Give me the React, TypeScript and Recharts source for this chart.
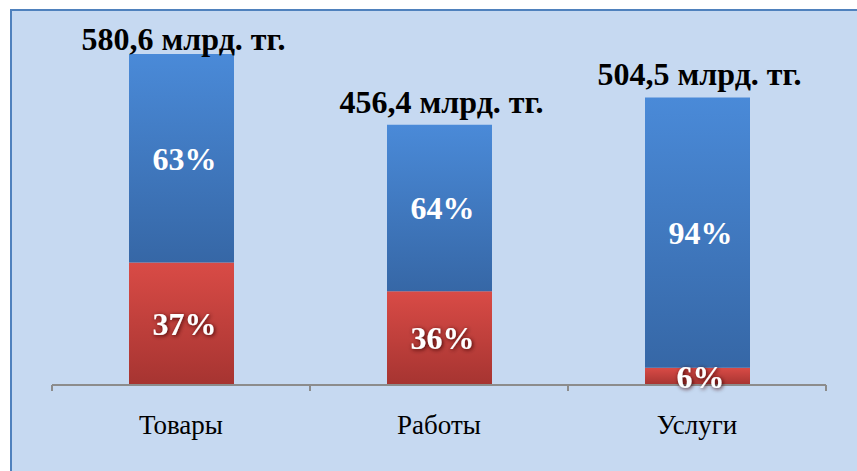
import { BarChart, Bar, XAxis, YAxis, LabelList } from "recharts";

const categories = ["Товары", "Работы", "Услуги"];
const totals = [580.6, 456.4, 504.5]; // млрд. тг.
const redShare = [37, 36, 6];
const blueShare = [63, 64, 94];

const W = 857;
const H = 471;
const M = { top: 43, right: 31, bottom: 26, left: 52 };
const X_AXIS_H = 60;
const AXIS_Y = H - M.bottom - X_AXIS_H;
const BAND = (W - M.left - M.right) / categories.length;
const SERIF = '"Liberation Serif", "Times New Roman", serif';

const data = categories.map((name, i) => ({
  name,
  red: (totals[i] * redShare[i]) / 100,
  blue: (totals[i] * blueShare[i]) / 100,
  total: totals[i],
  redPct: redShare[i],
  bluePct: blueShare[i],
}));

const fmtTotal = (v: number) => `${v.toFixed(1).replace(".", ",")} млрд. тг.`;

function CategoryTick(props: any) {
  const { x, payload } = props;
  return (
    <g>
      <line x1={x - BAND / 2} x2={x - BAND / 2} y1={AXIS_Y} y2={AXIS_Y + 6} stroke="#8c8c8c" strokeWidth={2} />
      <line x1={x + BAND / 2} x2={x + BAND / 2} y1={AXIS_Y} y2={AXIS_Y + 6} stroke="#8c8c8c" strokeWidth={2} />
      <text x={x} y={AXIS_Y + 49} textAnchor="middle" fontFamily={SERIF} fontSize={27} fill="#000">
        {payload.value}
      </text>
    </g>
  );
}

function pctLabel(shadow: boolean) {
  return (p: any) => {
    const { x, y, width, height, value } = p;
    return (
      <text
        x={x + width / 2 + 3}
        y={y + height / 2}
        dy="0.35em"
        textAnchor="middle"
        fontFamily={SERIF}
        fontWeight="bold"
        fontSize={32}
        fill="#fff"
        filter={shadow ? "url(#darkGlow)" : undefined}
      >
        {value}%
      </text>
    );
  };
}

function TotalLabel(p: any) {
  const { x, y, width, value } = p;
  const base = Math.max(y - 12, 50);
  return (
    <text x={x + width / 2 + 2} y={base} textAnchor="middle" fontFamily={SERIF} fontWeight="bold" fontSize={32} fill="#000">
      {fmtTotal(value)}
    </text>
  );
}

export default function App() {
  return (
    <div style={{ position: "fixed", left: 0, top: 0, width: W, height: H, background: "#fff", overflow: "hidden" }}>
      <div
        style={{
          position: "absolute",
          left: 10,
          top: 9,
          width: W + 10,
          height: H + 10,
          background: "#c6d9f1",
          borderTop: "2px solid #4f81bd",
          borderLeft: "2px solid #4f81bd",
        }}
      />
      <div style={{ position: "absolute", left: 0, top: 0 }}>
        <BarChart width={W} height={H} data={data} margin={M} barSize={105}>
          <defs>
            <linearGradient id="blueGrad" x1="0" y1="0" x2="0" y2="1">
              <stop offset="0%" stopColor="#4a8ad8" />
              <stop offset="100%" stopColor="#3667a6" />
            </linearGradient>
            <linearGradient id="redGrad" x1="0" y1="0" x2="0" y2="1">
              <stop offset="0%" stopColor="#d94b46" />
              <stop offset="100%" stopColor="#a63431" />
            </linearGradient>
            <filter id="darkGlow" x="-20%" y="-30%" width="140%" height="160%">
              <feDropShadow dx="1" dy="1" stdDeviation="2" floodColor="#3a0605" floodOpacity="1" />
            </filter>
          </defs>
          <XAxis
            dataKey="name"
            height={X_AXIS_H}
            tickLine={false}
            axisLine={{ stroke: "#8c8c8c", strokeWidth: 2 }}
            tick={<CategoryTick />}
            interval={0}
          />
          <YAxis hide domain={[0, 600]} />
          <Bar dataKey="red" stackId="a" fill="url(#redGrad)" isAnimationActive={false}>
            <LabelList dataKey="redPct" content={pctLabel(true)} />
          </Bar>
          <Bar dataKey="blue" stackId="a" fill="url(#blueGrad)" isAnimationActive={false}>
            <LabelList dataKey="bluePct" content={pctLabel(false)} />
            <LabelList dataKey="total" content={TotalLabel} />
          </Bar>
        </BarChart>
      </div>
    </div>
  );
}
